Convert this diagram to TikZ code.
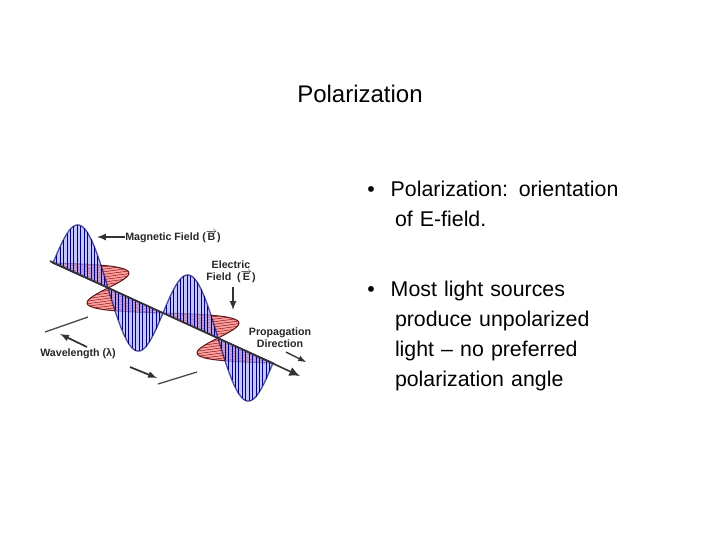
\documentclass[tikz,border=0pt]{standalone}
\usepackage{fontspec}
\setmainfont{Liberation Sans}
\usetikzlibrary{arrows.meta}
\begin{document}
\begin{tikzpicture}[x=0.75pt,y=-0.75pt,
  lbl/.style={font=\bfseries\fontsize{8}{9}\selectfont,inner sep=0pt,align=center,text=black!85},
  body/.style={font=\fontsize{16}{22.5}\selectfont,anchor=north west,inner sep=0pt,align=left,text width=270pt},
  arr/.style={-latex,line width=1.3pt,black!80}]
\useasboundingbox (0,0) rectangle (720,540);
\node[font=\fontsize{18}{20}\selectfont,inner sep=0pt] (title) at (360,94) {Polarization};
\node[body] (b1) at (367,181) {•\hspace{0.75em}Polarization: orientation\\\hspace{1.3em}of E-field.};
\node[body] (b2) at (367,281) {•\hspace{0.75em}Most light sources\\\hspace{1.3em}produce unpolarized\\\hspace{1.3em}light – no preferred\\\hspace{1.3em}polarization angle};
\def\ox{53}\def\oy{263}
% E field (red)
\foreach \k in {0,1,2,3}{
  \pgfmathsetmacro\ka{\k+1}
  \fill[red!45,opacity=0.85,draw=black!70!red,line width=0.8pt]
    plot[domain=\k:\ka,samples=25,variable=\t] ({\ox+55*\t+45*sin(180*\t)},{\oy+25*\t-6*sin(180*\t)}) -- cycle;
  \foreach \i in {1,...,11}{
    \pgfmathsetmacro\t{\k+\i*0.08}
    \draw[black!60!red,line width=0.3pt] ({\ox+55*\t},{\oy+25*\t}) -- ({\ox+55*\t+45*sin(180*\t)},{\oy+25*\t-6*sin(180*\t)});
  }
}
% B field (blue)
\foreach \k in {0,1,2,3}{
  \pgfmathsetmacro\ka{\k+1}
  \fill[blue!35!white,opacity=0.65,draw=black!60!blue,line width=1pt]
    plot[domain=\k:\ka,samples=25,variable=\t] ({\ox+55*\t},{\oy+25*\t-50*sin(180*\t)}) -- cycle;
  \foreach \i in {1,...,15}{
    \pgfmathsetmacro\t{\k+\i*0.0625}
    \draw[black!50!blue,line width=0.3pt] ({\ox+55*\t},{\oy+25*\t}) -- ({\ox+55*\t},{\oy+25*\t-50*sin(180*\t)});
  }
}
\coordinate (ax0) at (50,261);
\coordinate (ax1) at (300,376);
\draw[black!80,line width=1.2pt,-{Latex[length=8pt,width=7pt]}] (ax0) -- (ax1);
\node[lbl,anchor=west] (mag) at (125,237) {Magnetic Field ($\overrightarrow{\textbf{B}}$)};
\coordinate (magtip) at (97,237);
\draw[arr] (mag.west) -- (magtip);
\node[lbl] (ele) at (231,272) {Electric\\Field\ \ ($\overrightarrow{\textbf{E}}$)};
\coordinate (eletip) at (233,310);
\coordinate (eletop) at (233,287);
\draw[arr] (eletop) -- (eletip);
\node[lbl] (prop) at (280,338) {Propagation\\Direction};
\coordinate (p0) at (286,352); \coordinate (p1) at (306,362);
\draw[arr,line width=1pt] (p0) -- (p1);
\node[lbl,anchor=west] (wl) at (40,354) {Wavelength (λ)};
\coordinate (w1a) at (87,347); \coordinate (w1b) at (60,334);
\draw[arr] (w1a) -- (w1b);
\coordinate (l1a) at (45,332); \coordinate (l1b) at (88,317);
\draw[black!70,line width=1pt] (l1a) -- (l1b);
\coordinate (w2a) at (130,367); \coordinate (w2b) at (157,378);
\draw[arr] (w2a) -- (w2b);
\coordinate (l2a) at (158,384); \coordinate (l2b) at (197,372);
\draw[black!70,line width=1pt] (l2a) -- (l2b);
\end{tikzpicture}
\end{document}
